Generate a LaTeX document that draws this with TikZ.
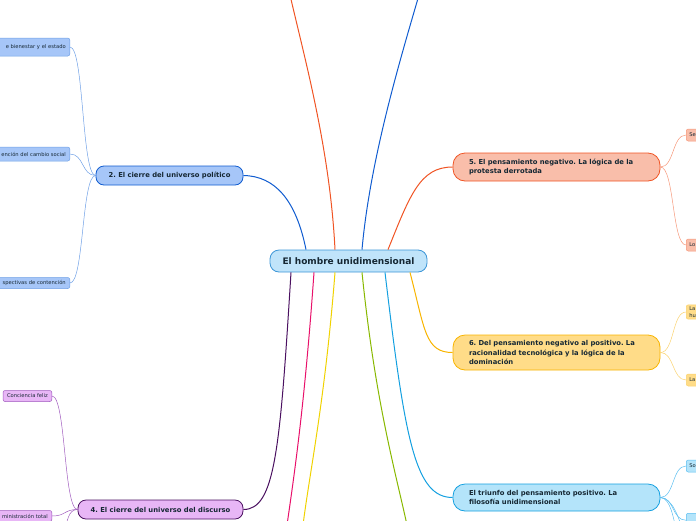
\documentclass[tikz,border=0pt]{standalone}
\usepackage{fontspec}
\setmainfont{DejaVu Sans}
\usepackage{tikz}
\usetikzlibrary{positioning,calc}
\frenchspacing
\definecolor{mminkdark}{RGB}{22,40,52}
\definecolor{mmrootfill}{RGB}{192,228,250}
\definecolor{mmrootline}{RGB}{60,150,215}
\definecolor{mmbluefill}{RGB}{166,198,248}
\definecolor{mmblueline}{RGB}{16,92,208}
\definecolor{mmblueleaf}{RGB}{110,160,230}
\definecolor{mmpurplefill}{RGB}{232,182,246}
\definecolor{mmpurpleline}{RGB}{74,16,96}
\definecolor{mmpurpleleaf}{RGB}{160,90,190}
\definecolor{mmredfill}{RGB}{249,190,170}
\definecolor{mmredline}{RGB}{240,84,36}
\definecolor{mmredleaf}{RGB}{246,150,120}
\definecolor{mmgoldfill}{RGB}{255,220,136}
\definecolor{mmgoldline}{RGB}{248,180,0}
\definecolor{mmgoldleaf}{RGB}{250,210,110}
\definecolor{mmcyanfill}{RGB}{180,228,250}
\definecolor{mmcyanline}{RGB}{20,160,224}
\definecolor{mmcyanleaf}{RGB}{90,190,240}
\definecolor{mmmagenta}{RGB}{232,16,106}
\definecolor{mmyellow}{RGB}{240,210,0}
\definecolor{mmgreen}{RGB}{136,184,0}

\begin{document}
\begin{tikzpicture}[x=1pt,y=-1pt,
  root/.style={draw=mmrootline, fill=mmrootfill, line width=0.8pt, rounded corners=9pt,
    minimum width=157pt, minimum height=22pt, inner sep=0pt,
    font=\fontsize{9}{11}\selectfont\bfseries, text=mminkdark},
  topic/.style={line width=0.8pt, inner sep=0pt,
    font=\fontsize{6.8}{9.5}\selectfont\bfseries, text=mminkdark},
  widetopic/.style={topic, rounded corners=12pt, text width=175pt, align=left, inner xsep=16pt},
  leaf/.style={line width=0.5pt, rounded corners=2pt, inner ysep=2pt, minimum height=11pt,
    font=\fontsize{5.2}{6.5}\selectfont, text=mminkdark},
  lleaf/.style={leaf, anchor=east, text width=110pt, align=right, inner xsep=4pt},
  rleaf/.style={leaf, anchor=west, text width=40pt, align=left, inner xsep=3pt},
  branch/.style={line width=1pt},
  twig/.style={line width=0.5pt}]
  \clip (0,0) rectangle (696,520);

  % centre and main topics
  \node[root] (root) at (348.5,261) {El hombre unidimensional};
  \node[topic, draw=mmblueline, fill=mmbluefill, rounded corners=8pt, minimum width=147pt, minimum height=19pt]
    (cierrepol) at (169.5,175.5) {2. El cierre del universo político};
  \node[topic, draw=mmpurpleline, fill=mmpurplefill, rounded corners=8pt, minimum width=165pt, minimum height=19pt]
    (cierredis) at (160.5,509.5) {4. El cierre del universo del discurso};
  \node[widetopic, draw=mmredline, fill=mmredfill, minimum height=28pt]
    (negativo) at (556.5,167) {5. El pensamiento negativo. La lógica de la\\protesta derrotada};
  \node[widetopic, draw=mmgoldline, fill=mmgoldfill, minimum height=35pt]
    (positivo) at (556.5,352.5) {6. Del pensamiento negativo al positivo. La\\racionalidad tecnológica y la lógica de la\\dominación};
  \node[widetopic, draw=mmcyanline, fill=mmcyanfill, minimum height=27pt]
    (triunfo) at (556.5,497.5) {El triunfo del pensamiento positivo. La\\filosofía unidimensional};

  % leaves on the left
  \node[lleaf, draw=mmblueleaf, fill=mmbluefill, minimum height=18pt] (bienestar) at (70,47) {e bienestar y el estado};
  \node[lleaf, draw=mmblueleaf, fill=mmbluefill, minimum height=14pt] (cambio) at (70,154) {ención del cambio social};
  \node[lleaf, draw=mmblueleaf, fill=mmbluefill] (perspect) at (70,283) {spectivas de contención};
  \node[leaf, draw=mmpurpleleaf, fill=mmpurplefill, anchor=east, inner xsep=4pt] (feliz) at (52,396) {Conciencia feliz};
  \node[lleaf, draw=mmpurpleleaf, fill=mmpurplefill] (admin) at (52,516) {ministración total};

  % leaves on the right
  \node[rleaf, draw=mmredleaf, fill=mmredfill, minimum height=12pt] (negA) at (686,135) {Se};
  \node[rleaf, draw=mmredleaf, fill=mmredfill, minimum height=12pt] (negB) at (686,245) {Lo};
  \node[rleaf, draw=mmgoldleaf, fill=mmgoldfill] (posA) at (686,312) {La\\hu};
  \node[rleaf, draw=mmgoldleaf, fill=mmgoldfill, minimum height=12pt] (posB) at (686,380) {La};
  \node[rleaf, draw=mmcyanleaf, fill=mmcyanfill, minimum height=12pt] (triA) at (686,466) {So};
  \node[rleaf, draw=mmcyanleaf, fill=mmcyanfill, anchor=north west, minimum height=14pt] (triB) at (686,513) {};

  % ends off the page
  \coordinate (upA) at (290,-5);
  \coordinate (upB) at (419,-5);
  \coordinate (downA) at (287,525);
  \coordinate (downB) at (303,525);
  \coordinate (downC) at (407,525);
  \coordinate (disC) at (64,530);
  \coordinate (triC) at (682,530);
  \coordinate (triD) at (676,530);

  % main branches
  \draw[branch, mmredline] (root.north -| 335,0) .. controls (330,150) and (305,60) .. (upA);
  \draw[branch, mmblueline] (root.north -| 362,0) .. controls (370,160) and (400,60) .. (upB);
  \draw[branch, mmblueline] (root.north -| 306,0) .. controls (296,200) and (275,176) .. (cierrepol.east);
  \draw[branch, mmredline] (root.north -| 388,0) .. controls (410,195) and (420,167) .. (negativo.west);
  \draw[branch, mmgoldline] (root.south -| 410,0) .. controls (425,330) and (425,352.5) .. (positivo.west);
  \draw[branch, mmcyanline] (root.south -| 385,0) .. controls (405,440) and (415,497.5) .. (triunfo.west);
  \draw[branch, mmpurpleline] (root.south -| 291,0) .. controls (280,450) and (275,509.5) .. (cierredis.east);
  \draw[branch, mmmagenta] (root.south -| 314,0) .. controls (305,400) and (295,470) .. (downA);
  \draw[branch, mmyellow] (root.south -| 335,0) .. controls (325,400) and (310,470) .. (downB);
  \draw[branch, mmgreen] (root.south -| 362,0) .. controls (375,400) and (395,470) .. (downC);

  % twigs
  \foreach \leafname in {bienestar,cambio,perspect}
    \draw[twig, mmblueleaf] (cierrepol.west) .. controls +(-14,0) and +(14,0) .. (\leafname.east);
  \foreach \leafname in {feliz,admin}
    \draw[twig, mmpurpleleaf] (cierredis.west) .. controls +(-14,0) and +(14,0) .. (\leafname.east);
  \draw[twig, mmpurpleleaf] (cierredis.west) .. controls +(-10,0) and +(4,-8) .. (disC);
  \foreach \leafname in {negA,negB}
    \draw[twig, mmredleaf] (negativo.east) .. controls +(14,0) and +(-14,0) .. (\leafname.west);
  \foreach \leafname in {posA,posB}
    \draw[twig, mmgoldleaf] (positivo.east) .. controls +(14,0) and +(-14,0) .. (\leafname.west);
  \draw[twig, mmcyanleaf] (triunfo.east) .. controls +(14,0) and +(-14,0) .. (triA.west);
  \draw[twig, mmcyanleaf] (triunfo.east) .. controls +(14,0) and +(-14,0) .. (triB.west);
  \draw[twig, mmcyanleaf] (triunfo.east) .. controls +(12,0) and +(-2,-10) .. (triC);
  \draw[twig, mmcyanleaf] (triunfo.east) .. controls +(10,0) and +(-2,-10) .. (triD);
\end{tikzpicture}
\end{document}
